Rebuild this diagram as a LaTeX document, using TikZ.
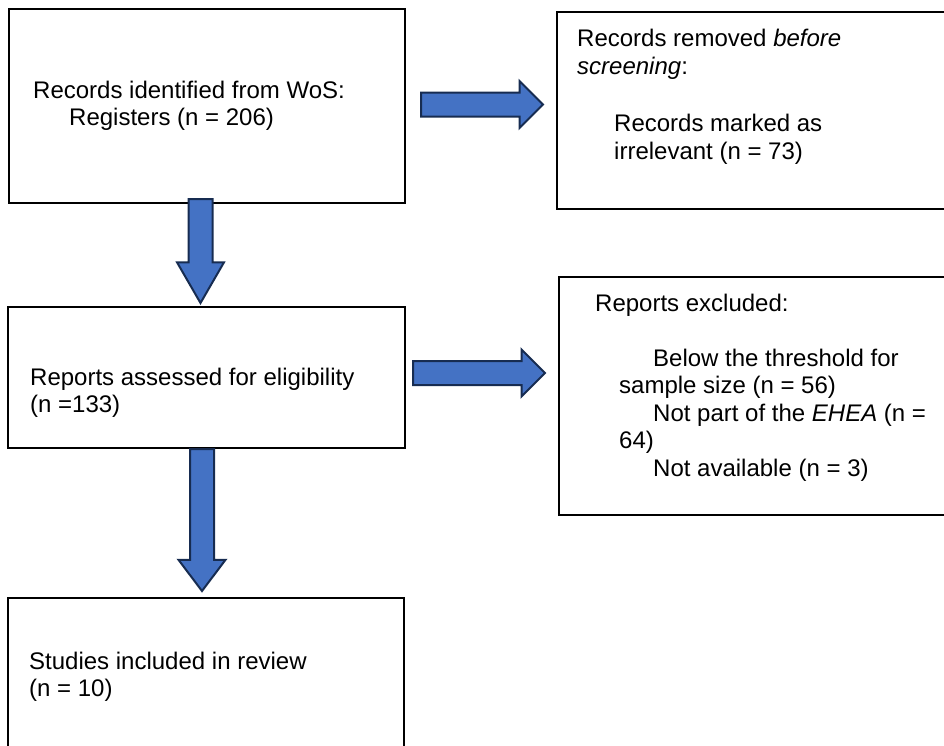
\documentclass[tikz,border=0pt]{standalone}
\usepackage{fontspec}
\setmainfont{Liberation Sans}
\usepackage{tikz}
\usetikzlibrary{
  calc,
  shapes.arrows
}
\definecolor{flowblue}{RGB}{68,114,196}
\definecolor{flownavy}{RGB}{23,44,81}
\tikzset{
  flowBox/.style={
    rectangle,
    draw=black,
    line width=2.8pt,
    anchor=north west,
    inner sep=0pt,
    outer sep=0pt
  },
  flowText/.style={
    inner sep=0pt,
    anchor=base west,
    align=left,
    font=\fontsize{24}{27.5}\selectfont
  },
  flowArrow/.style={
    single arrow,
    draw=flownavy,
    fill=flowblue,
    line width=2pt,
    inner xsep=0pt,
    inner ysep=11pt,
    outer sep=0pt,
    minimum width=45pt,
    single arrow head extend=11.5pt,
    single arrow head indent=0pt,
    single arrow tip angle=90,
    pos=0,
    sloped,
    allow upside down,
    anchor=tail
  }
}

\begin{document}
\begin{tikzpicture}[x=1pt, y=1pt]
  \path[use as bounding box, clip] (0,0) rectangle (944,-745);

  % boxes
  \node[flowBox, minimum width=396pt, minimum height=194pt]
    (recId) at (9,-9) {};
  \node[flowBox, minimum width=398pt, minimum height=197pt]
    (remBefore) at (557,-12) {};
  \node[flowBox, minimum width=397pt, minimum height=141pt]
    (assess) at (8,-307) {};
  \node[flowBox, minimum width=398pt, minimum height=238pt]
    (excl) at (559,-277) {};
  \node[flowBox, minimum width=396pt, minimum height=152pt]
    (incl) at (8,-598) {};

  % texts (anchored at the baseline of the last line)
  \node[flowText] (recIdText) at ([shift={(24,-116.5)}]recId.north west)
    {Records identified from WoS:\\\hspace*{36pt}Registers (n = 206)};
  \node[flowText] (remBeforeText) at ([shift={(20,-147)}]remBefore.north west)
    {Records removed \textit{before}\\\textit{screening}:\\[30pt]
     \hspace*{37pt}Records marked as\\\hspace*{37pt}irrelevant (n = 73)};
  \node[flowText] (assessText) at ([shift={(22,-105.5)}]assess.north west)
    {Reports assessed for eligibility\\(n =133)};
  \node[flowText] (exclText) at ([shift={(36,-199)}]excl.north west)
    {Reports excluded:\\[27.5pt]
     \hspace*{58pt}Below the threshold for\\
     \hspace*{24pt}sample size (n = 56)\\
     \hspace*{58pt}Not part of the \textit{EHEA} (n =\\
     \hspace*{24pt}64)\\
     \hspace*{58pt}Not available (n = 3)};
  \node[flowText] (inclText) at ([shift={(21,-98.5)}]incl.north west)
    {Studies included in review\\(n = 10)};

  % block arrows (tail at the start of each path)
  \coordinate (a1s) at ([xshift=16pt, yshift=1.5pt]recId.east);
  \coordinate (a1e) at (a1s -| remBefore.west);
  \path (a1s) -- ([xshift=-14pt]a1e)
    node[flowArrow, minimum height=122pt] (arrRem) {};

  \coordinate (v1s) at ([xshift=-6.5pt, yshift=4pt]recId.south);
  \coordinate (v1e) at (v1s |- assess.north);
  \path (v1s) -- ([yshift=4pt]v1e)
    node[flowArrow, single arrow tip angle=60,
      minimum height=104pt] (arrAssess) {};

  \coordinate (a2s) at ([xshift=8pt, yshift=4.5pt]assess.east);
  \coordinate (a2e) at (a2s -| excl.west);
  \path (a2s) -- ([xshift=-14pt]a2e)
    node[flowArrow, minimum height=132pt] (arrExcl) {};

  \coordinate (v2s) at ([xshift=-4.5pt, yshift=-1pt]assess.south);
  \coordinate (v2e) at (v2s |- incl.north);
  \path (v2s) -- ([yshift=7pt]v2e)
    node[flowArrow, single arrow tip angle=74,
      minimum height=142pt] (arrIncl) {};
\end{tikzpicture}
\end{document}
